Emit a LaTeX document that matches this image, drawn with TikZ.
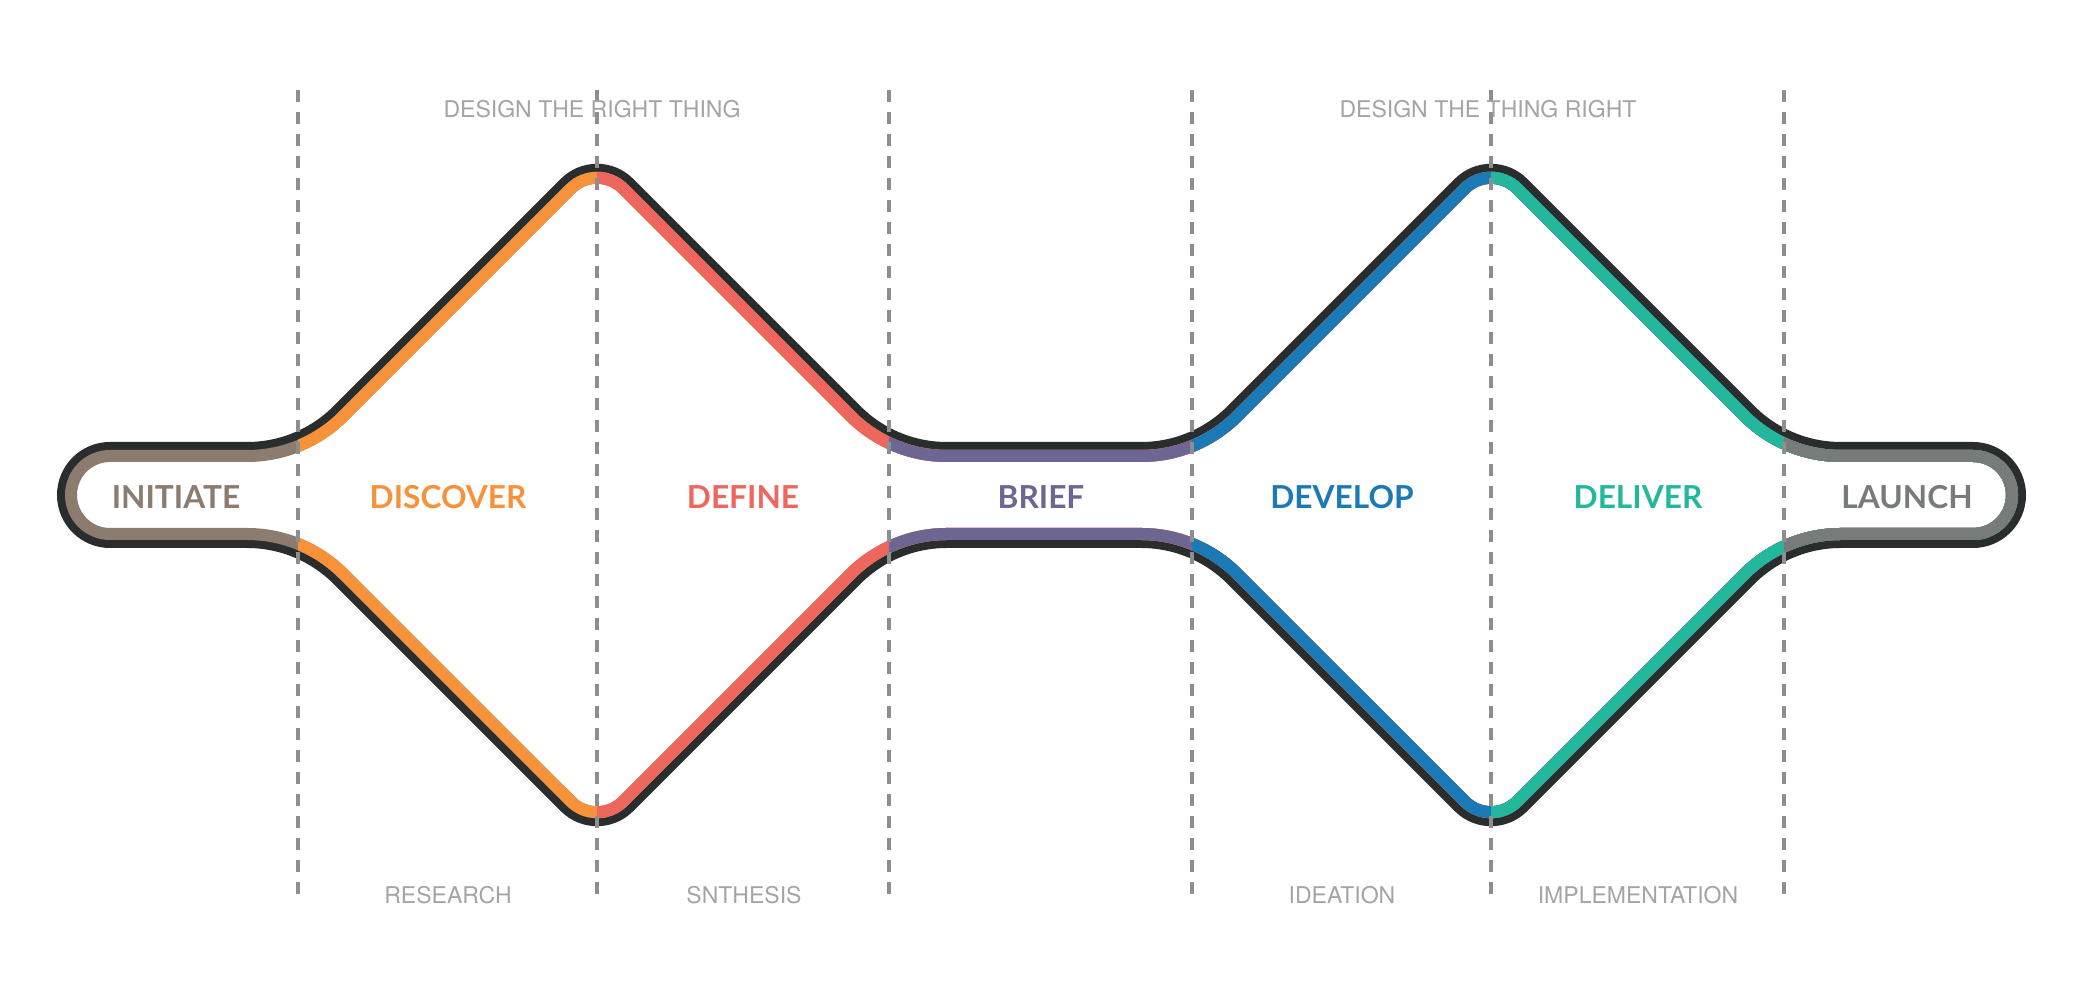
\documentclass[tikz,border=0pt]{standalone}
\usepackage{fontspec}
\setmainfont{TeX Gyre Heros}
\newfontfamily\phasefont{Lato}

\definecolor{outlinecol}{HTML}{2A2D2E}
\definecolor{dividercol}{HTML}{8E8E8E}
\definecolor{stagecol}{HTML}{A4A4A4}
\definecolor{initiatecol}{HTML}{8C7B6F}
\definecolor{discovercol}{HTML}{F7923A}
\definecolor{definecol}{HTML}{EE675E}
\definecolor{briefcol}{HTML}{6D6592}
\definecolor{developcol}{HTML}{1B79B5}
\definecolor{delivercol}{HTML}{23B89C}
\definecolor{launchcol}{HTML}{777B7A}

\tikzset{
    phase/.style = {font = \phasefont\bfseries\fontsize{9}{11}\selectfont},
    stage/.style = {font = \fontsize{6.55}{8}\selectfont, text = stagecol},
    divider/.style = {draw = dividercol, line width = 0.4mm, dash pattern = on 1.2mm off 1mm},
    rim/.style = {draw = outlinecol, line width = 1.6mm},
    band/.style = {draw = #1, line width = 2.4mm},
}

\newcommand\doublediamond{
    (110, 450) -- (247.15, 450) arc [start angle = 90, end angle = 45, radius = 130]
    -- (566.59, 184.41) arc [start angle = 225, end angle = 315, radius = 43]
    -- (854.92, 411.92) arc [start angle = 135, end angle = 90, radius = 130]
    -- (1141.15, 450) arc [start angle = 90, end angle = 45, radius = 130]
    -- (1460.59, 184.41) arc [start angle = 225, end angle = 315, radius = 43]
    -- (1748.93, 411.92) arc [start angle = 135, end angle = 90, radius = 130]
    -- (1973, 450) arc [start angle = -90, end angle = 90, radius = 45]
    -- (1840.85, 540) arc [start angle = 270, end angle = 225, radius = 130]
    -- (1521.41, 805.59) arc [start angle = 45, end angle = 135, radius = 43]
    -- (1233.07, 578.08) arc [start angle = 315, end angle = 270, radius = 130]
    -- (946.85, 540) arc [start angle = 270, end angle = 225, radius = 130]
    -- (627.41, 805.59) arc [start angle = 45, end angle = 135, radius = 43]
    -- (339.07, 578.08) arc [start angle = 315, end angle = 270, radius = 130]
    -- (110, 540) arc [start angle = 90, end angle = 270, radius = 45]
    -- cycle
}

\begin{document}
\begin{tikzpicture}[x = 0.01cm, y = -0.01cm]
    \useasboundingbox (0, 0) rectangle (2084, 1004);

    \path[rim] \doublediamond;

    \foreach \from/\col in {0/initiatecol, 298/discovercol, 597/definecol, 889/briefcol,
            1192/developcol, 1491/delivercol, 1784/launchcol} {
        \begin{scope}
            \clip (\from, 0) rectangle (2084, 1004);
            \clip \doublediamond;
            \path[band = \col] \doublediamond;
        \end{scope}
    }

    \foreach \x in {298, 597, 889, 1192, 1491, 1784}
        \draw[divider] (\x, 90) -- (\x, 904);

    \node[phase, text = initiatecol] (initiate) at (176, 497) {INITIATE};
    \node[phase, text = discovercol] (discover) at (448, 497) {DISCOVER};
    \node[phase, text = definecol] (define) at (743, 497) {DEFINE};
    \node[phase, text = briefcol] (brief) at (1041, 497) {BRIEF};
    \node[phase, text = developcol] (develop) at (1342, 497) {DEVELOP};
    \node[phase, text = delivercol] (deliver) at (1638, 497) {DELIVER};
    \node[phase, text = launchcol] (launch) at (1907, 497) {LAUNCH};

    \node[stage] (right thing) at (592, 109) {DESIGN THE RIGHT THING};
    \node[stage] (thing right) at (1488, 109) {DESIGN THE THING RIGHT};
    \node[stage] (research) at (448, 895) {RESEARCH};
    \node[stage] (synthesis) at (744, 895) {SNTHESIS};
    \node[stage] (ideation) at (1342, 895) {IDEATION};
    \node[stage] (implementation) at (1638, 895) {IMPLEMENTATION};
\end{tikzpicture}
\end{document}
